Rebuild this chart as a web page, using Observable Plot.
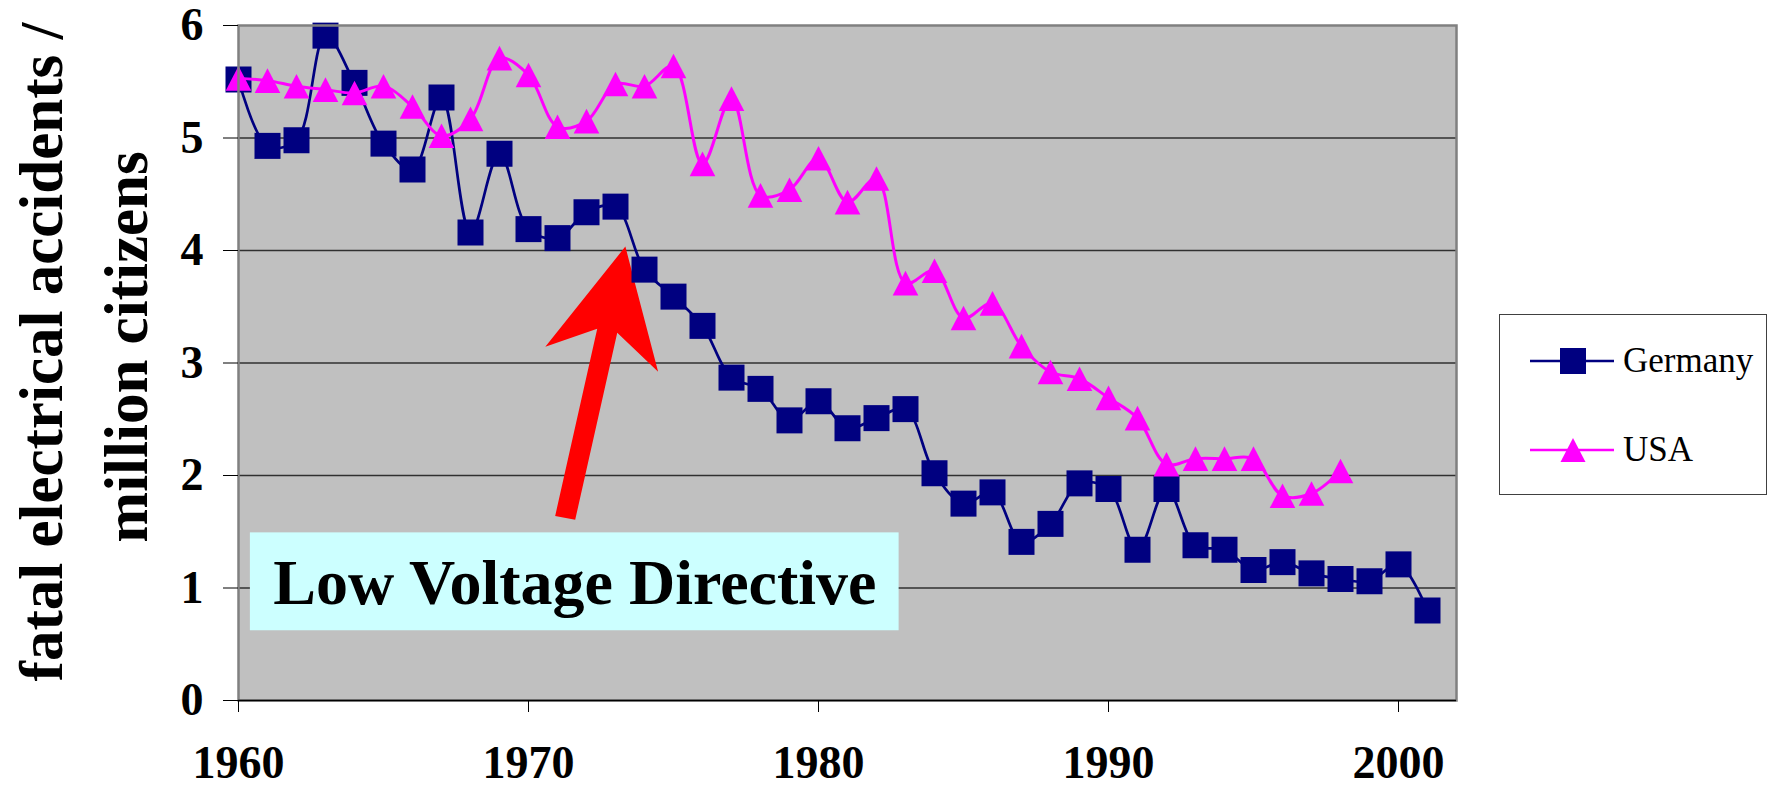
<!DOCTYPE html>
<html>
<head>
<meta charset="utf-8">
<script src="https://cdn.jsdelivr.net/npm/d3@7"></script>
<script src="https://cdn.jsdelivr.net/npm/@observablehq/plot@0.6"></script>
<style>
  html, body { margin: 0; padding: 0; background: white; }
  #wrap { position: relative; width: 1769px; height: 789px; font-family: "Liberation Serif", "DejaVu Serif", "Noto Serif", "FreeSerif", "Times New Roman", Times, serif; }
  #legend { position: absolute; left: 1499px; top: 314px; width: 268px; height: 181px; box-sizing: border-box; border: 1.5px solid #404040; background: white; }
  .item { position: absolute; left: 30px; height: 40px; display: flex; align-items: center; }
  .item span { font-size: 35px; color: black; margin-left: 9px; }
</style>
</head>
<body>
<div id="wrap"><div id="legend"></div></div>
<script>
// ---- data ----
const germanyYears = [1960,1961,1962,1963,1964,1965,1966,1967,1968,1969,1970,1971,1972,1973,1974,1975,1976,1977,1978,1979,1980,1981,1982,1983,1984,1985,1986,1987,1988,1989,1990,1991,1992,1993,1994,1995,1996,1997,1998,1999,2000,2001];
const germanyValues = [5.52,4.93,4.98,5.91,5.49,4.95,4.72,5.36,4.16,4.86,4.19,4.11,4.34,4.39,3.83,3.59,3.33,2.87,2.77,2.49,2.66,2.42,2.51,2.59,2.02,1.75,1.85,1.41,1.57,1.93,1.88,1.34,1.88,1.38,1.34,1.16,1.23,1.13,1.08,1.06,1.21,0.80];
const usaYears = [1960,1961,1962,1963,1964,1965,1966,1967,1968,1969,1970,1971,1972,1973,1974,1975,1976,1977,1978,1979,1980,1981,1982,1983,1984,1985,1986,1987,1988,1989,1990,1991,1992,1993,1994,1995,1996,1997,1998];
const usaValues = [5.53,5.51,5.46,5.43,5.40,5.46,5.28,5.02,5.17,5.71,5.56,5.10,5.15,5.48,5.46,5.64,4.77,5.35,4.49,4.54,4.82,4.43,4.64,3.71,3.82,3.40,3.53,3.15,2.92,2.86,2.69,2.51,2.10,2.15,2.15,2.15,1.82,1.84,2.04];
const seriesNames = ["Germany", "USA"];
const seriesColors = ["#000080", "#FF00FF"];
const xTicks = [1960, 1970, 1980, 1990, 2000];
const yTicks = [0, 1, 2, 3, 4, 5, 6];
const yTitleLines = ["fatal electrical accidents /", "million citizens"];
const noteText = ["Low Voltage Directive"];
// annotation box and arrow, in data units (year, value)
const noteBoxX = [1960.41, 1982.78];
const noteBoxY = [0.62, 1.49];
const noteTextPos = [1971.6, 1.04];
const arrowX = [1970.92, 1972.37, 1970.58, 1973.34, 1974.47, 1973.06, 1971.61];
const arrowY = [1.641, 3.305, 3.145, 4.035, 2.922, 3.270, 1.606];

// ---- tables built from arrays ----
const germany = germanyYears.map((y, i) => ({year: y, value: germanyValues[i]}));
const usa = usaYears.map((y, i) => ({year: y, value: usaValues[i]}));
const arrowShape = arrowX.map((x, i) => ({x, y: arrowY[i]}));
const noteBox = [{x1: noteBoxX[0], x2: noteBoxX[1], y1: noteBoxY[0], y2: noteBoxY[1]}];
const noteLabel = [{x: noteTextPos[0], y: noteTextPos[1], text: noteText[0]}];

// Excel-like triangle centred on its bounding box
const triSym = {
  draw(ctx, size) {
    const r = Math.sqrt(size / Math.PI);
    const h = r * 1.3, w = r * 1.35;
    ctx.moveTo(0, -h); ctx.lineTo(w, h); ctx.lineTo(-w, h); ctx.closePath();
  }
};

const font = '"Liberation Serif", "DejaVu Serif", "Noto Serif", "FreeSerif", "Times New Roman", Times, serif';

const chart = Plot.plot({
  width: 1769, height: 789,
  marginLeft: 238, marginRight: 313, marginTop: 25, marginBottom: 89,
  x: {domain: [1960, 2002]},
  y: {domain: [0, 6]},
  style: {fontFamily: font, background: "white", color: "black"},
  marks: [
    Plot.frame({fill: "#C0C0C0", stroke: null}),
    Plot.gridY(yTicks.filter(d => d > 0 && d < 6), {stroke: "#303030", strokeOpacity: 1, strokeWidth: 1.3}),
    Plot.rect(noteBox, {x1: "x1", x2: "x2", y1: "y1", y2: "y2", fill: "#CCFFFF"}),
    Plot.text(noteLabel, {x: "x", y: "y", text: "text", fontSize: 64, fontWeight: "bold", fill: "black"}),
    Plot.line(arrowShape, {x: "x", y: "y", fill: "#FF0000", stroke: "none", curve: "linear-closed"}),
    Plot.line(germany, {x: "year", y: "value", stroke: seriesColors[0], strokeWidth: 2.7, curve: "catmull-rom"}),
    Plot.dot(germany, {x: "year", y: "value", symbol: "square", r: 14.67, fill: seriesColors[0], stroke: "none"}),
    Plot.line(usa, {x: "year", y: "value", stroke: seriesColors[1], strokeWidth: 3, curve: "catmull-rom"}),
    Plot.dot(usa, {x: "year", y: "value", symbol: triSym, r: 9.5, fill: seriesColors[1], stroke: "none"}),
    Plot.frame({stroke: "#808080", strokeWidth: 2.5}),
    Plot.ruleY([0], {stroke: "black", strokeWidth: 1.5}),
    Plot.axisY(yTicks, {tickSize: 15, tickPadding: 20, fontSize: 46, fontWeight: "bold", label: null, stroke: "black", tickFormat: d => String(d)}),
    Plot.axisX(xTicks, {tickSize: 12, tickPadding: 33, fontSize: 46, fontWeight: "bold", label: null, stroke: "black", tickFormat: d => String(d)})
  ]
});

// y-axis title (two rotated lines)
const g = d3.select(chart).append("g")
  .attr("font-family", font).attr("font-weight", "bold").attr("font-size", 61)
  .attr("text-anchor", "middle").attr("fill", "black");
g.append("text").attr("transform", "translate(61.5,352) rotate(-90)").text(yTitleLines[0]);
g.append("text").attr("transform", "translate(147,347) rotate(-90)").text(yTitleLines[1]);

const wrap = document.getElementById("wrap");
wrap.insertBefore(chart, wrap.firstChild);

// legend
const legend = document.getElementById("legend");
const tops = [26, 115];
seriesNames.forEach((name, i) => {
  const item = document.createElement("div");
  item.className = "item";
  item.style.top = tops[i] + "px";
  const sym = i === 0
    ? `<rect x="30" y="7" width="26" height="26" fill="${seriesColors[i]}"/>`
    : `<path d="M43,8 L55.5,32 L30.5,32 Z" fill="${seriesColors[i]}"/>`;
  item.innerHTML = `<svg width="84" height="40"><line x1="0" x2="84" y1="20" y2="20" stroke="${seriesColors[i]}" stroke-width="2.7"/>${sym}</svg><span>${name}</span>`;
  legend.appendChild(item);
});
</script>
</body>
</html>
